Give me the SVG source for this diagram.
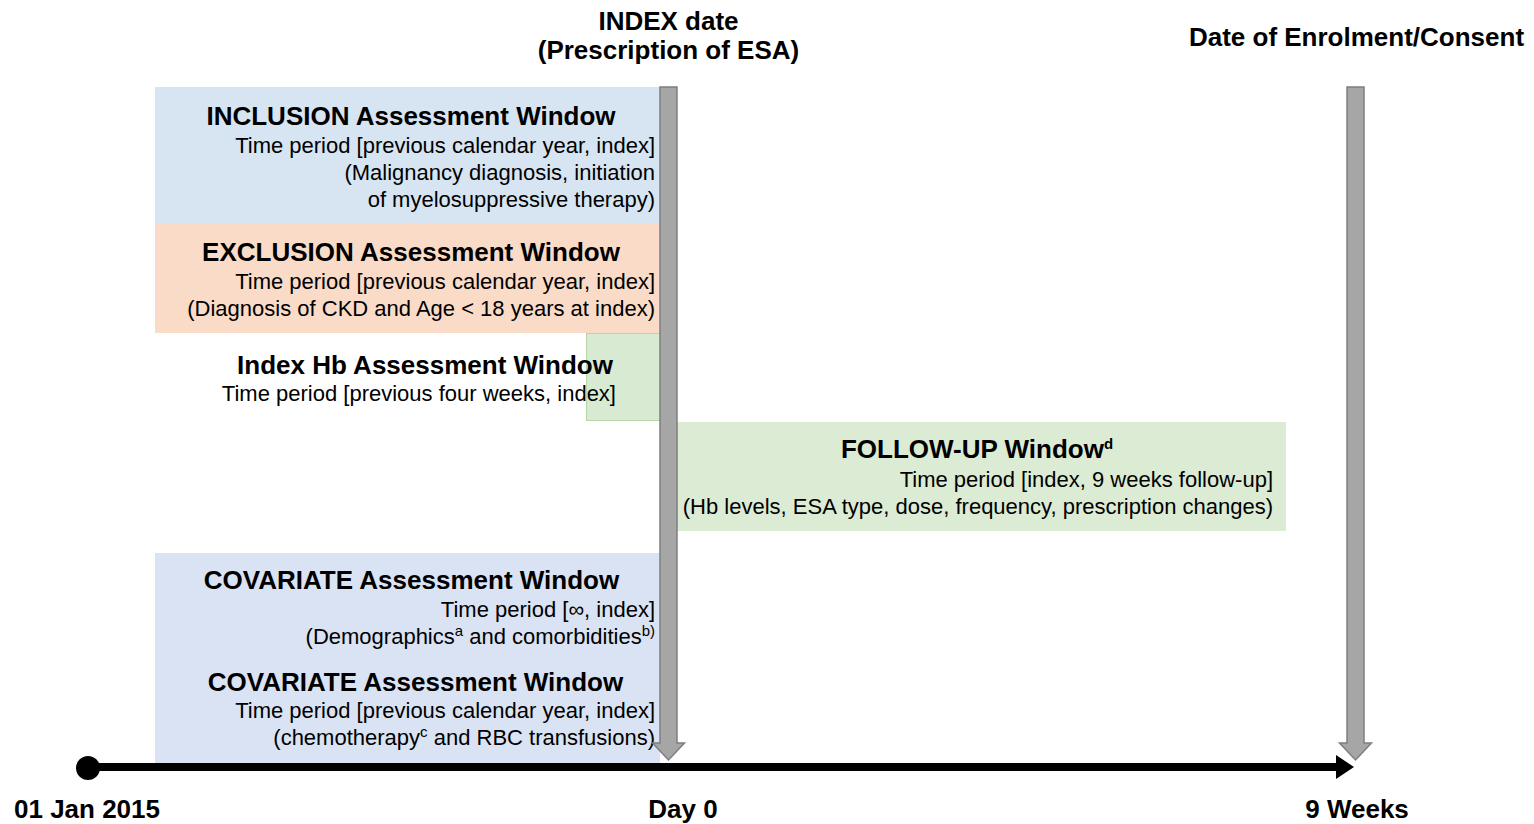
<svg xmlns="http://www.w3.org/2000/svg" width="1534" height="824" viewBox="0 0 1534 824">
<style>
text{font-family:"Liberation Sans",Arial,sans-serif;fill:#000}
.t{font-size:26px;font-weight:bold}
.r{font-size:22px;text-anchor:end}
.c{text-anchor:middle}
.sup{font-size:15px}
.garrow{fill:#a6a6a6;stroke:#7f7f7f;stroke-width:1.5}
</style>
<rect width="1534" height="824" fill="#fff"/>
<g id="inclusion">
<rect x="155" y="87" width="505" height="137" fill="#d7e5f3"/>
<text class="t c" x="411" y="125">INCLUSION Assessment Window</text>
<text class="r" x="655" y="153">Time period [previous calendar year, index]</text>
<text class="r" x="655" y="180">(Malignancy diagnosis, initiation</text>
<text class="r" x="655" y="207">of myelosuppressive therapy)</text>
</g>
<g id="exclusion">
<rect x="155" y="224" width="505" height="109" fill="#f9dbc7"/>
<text class="t c" x="411" y="261">EXCLUSION Assessment Window</text>
<text class="r" x="655" y="289">Time period [previous calendar year, index]</text>
<text class="r" x="655" y="316">(Diagnosis of CKD and Age &lt; 18 years at index)</text>
</g>
<g id="indexhb">
<rect x="586.5" y="333.5" width="74" height="87" fill="#d9ead3" stroke="#b5d6a7" stroke-width="1"/>
<text class="t c" x="425" y="374">Index Hb Assessment Window</text>
<text class="r" x="616" y="401">Time period [previous four weeks, index]</text>
</g>
<g id="followup">
<rect x="677" y="422" width="609" height="109" fill="#dcebd3"/>
<text class="t c" x="977" y="458">FOLLOW-UP Window<tspan class="sup" font-weight="bold" dy="-9">d</tspan></text>
<text class="r" x="1273" y="487">Time period [index, 9 weeks follow-up]</text>
<text class="r" x="1273" y="514">(Hb levels, ESA type, dose, frequency, prescription changes)</text>
</g>
<g id="covariate">
<rect x="155" y="553" width="505" height="210" fill="#dae3f3"/>
<text class="t c" x="411.5" y="589">COVARIATE Assessment Window</text>
<text class="r" x="655" y="617">Time period [∞, index]</text>
<text class="r" x="655" y="644">(Demographics<tspan class="sup" dy="-8">a</tspan><tspan dy="8"> and comorbidities</tspan><tspan class="sup" dy="-8">b)</tspan></text>
<text class="t c" x="415.5" y="691">COVARIATE Assessment Window</text>
<text class="r" x="655" y="718">Time period [previous calendar year, index]</text>
<text class="r" x="655" y="745">(chemotherapy<tspan class="sup" dy="-8">c</tspan><tspan dy="8"> and RBC transfusions)</tspan></text>
</g>
<g id="index-date">
<text class="t c" x="668.5" y="30">INDEX date</text>
<text class="t c" x="668.5" y="59">(Prescription of ESA)</text>
</g>
<g id="enrolment">
<text class="t c" x="1356.5" y="46">Date of Enrolment/Consent</text>
</g>
<g id="connectors">
<path class="garrow" d="M660,87 H677 V743 H684.5 L668.5,760 L652.5,743 H660 Z"/>
<path class="garrow" d="M1347,87 H1364 V743 H1371.5 L1355.5,760 L1339.5,743 H1347 Z"/>
<line x1="87" y1="767" x2="1338" y2="767" stroke="#000" stroke-width="8"/>
<circle cx="88" cy="768" r="12" fill="#000"/>
<polygon points="1336,755 1354,767 1336,779" fill="#000"/>
</g>
<g id="axis-labels">
<text class="t c" x="87" y="818">01 Jan 2015</text>
<text class="t c" x="683" y="818">Day 0</text>
<text class="t c" x="1357" y="818">9 Weeks</text>
</g>
</svg>
